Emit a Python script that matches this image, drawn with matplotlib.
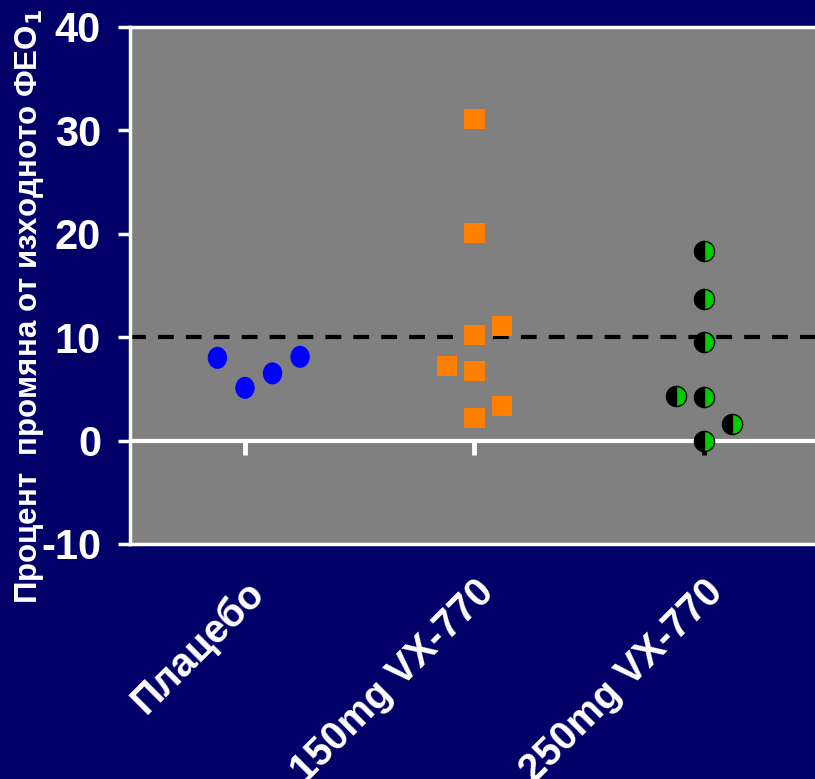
import matplotlib
matplotlib.use("Agg")
import matplotlib.pyplot as plt
from matplotlib.path import Path
from matplotlib.transforms import Affine2D

# Group labels and per-subject values (% change from baseline FEV1)
categories = ["Плацебо", "150mg VX-770", "250mg VX-770"]
placebo_offsets = [-0.12, 0.0, 0.12, 0.24]
placebo_values = [8.0, 5.1, 6.5, 8.1]
vx150_offsets = [0.0, 0.0, 0.0, 0.12, -0.12, 0.0, 0.12, 0.0]
vx150_values = [31.1, 20.1, 10.2, 11.1, 7.2, 6.7, 3.3, 2.2]
vx250_offsets = [0.0, 0.0, 0.0, -0.12, 0.0, 0.12, 0.0]
vx250_values = [18.3, 13.7, 9.5, 4.35, 4.2, 1.65, 0.0]
yticks = [-10, 0, 10, 20, 30, 40]
threshold = 10

navy = "#000068"
grey = "#808080"

plt.rcParams["font.family"] = ["Liberation Sans", "DejaVu Sans"]

# slightly tall ellipse used for the placebo markers
oval = Path.unit_circle().transformed(Affine2D().scale(0.88, 1.0))

fig = plt.figure(figsize=(8.15, 7.79), dpi=100, facecolor=navy)
ax = fig.add_axes([0.1598, 0.3017, 0.8448, 0.6637])
ax.set_facecolor(grey)

ax.set_xlim(0.5, 3.5)
ax.set_ylim(-10, 40)

# reference lines: zero line and dashed threshold
ax.axhline(0, color="white", lw=3, zorder=2)
ax.axhline(threshold, color="black", lw=3, dashes=(3.8, 2.9), zorder=2)

# short ticks hanging below the zero line at each group
for i, c in zip([1, 2, 3], ["white", "white", "black"]):
    ax.plot([i, i], [0, -1.4], color=c, lw=3.5, solid_capstyle="butt", zorder=2)

ax.scatter([1 + o for o in placebo_offsets], placebo_values, s=22 ** 2 * 0.52,
           marker=oval, color="#0000FF", edgecolors="none", zorder=3)
ax.scatter([2 + o for o in vx150_offsets], vx150_values, s=20 ** 2 * 0.52,
           marker="s", color="#FF8000", edgecolors="none", zorder=3)
ax.plot([3 + o for o in vx250_offsets], vx250_values, linestyle="none",
        marker="o", markersize=14.5, fillstyle="left", markerfacecolor="black",
        markerfacecoloralt="#00CC00", markeredgecolor="black",
        markeredgewidth=1.0, zorder=3)

for side in ["left", "bottom", "top", "right"]:
    ax.spines[side].set_color("white")
    ax.spines[side].set_linewidth(2.5)

ax.set_yticks(yticks)
ax.set_yticklabels([str(v) for v in yticks], color="white",
                   fontsize=30, fontweight="bold")
ax.tick_params(axis="y", colors="white", length=9, width=2.5, pad=12)

ax.set_xticks([1, 2, 3])
ax.set_xticklabels(categories, rotation=45, ha="right", va="top",
                   rotation_mode="anchor", color="white",
                   fontsize=28.5, fontweight="bold")
ax.tick_params(axis="x", length=0, pad=21)

ax.set_ylabel("Процент  промяна от изходното ФЕО$_{\\mathbf{1}}$",
              color="white", fontsize=22.5, fontweight="bold")
ax.yaxis.set_label_coords(-0.122, 0.46)

fig.savefig("out.png", dpi=100, facecolor=navy)
